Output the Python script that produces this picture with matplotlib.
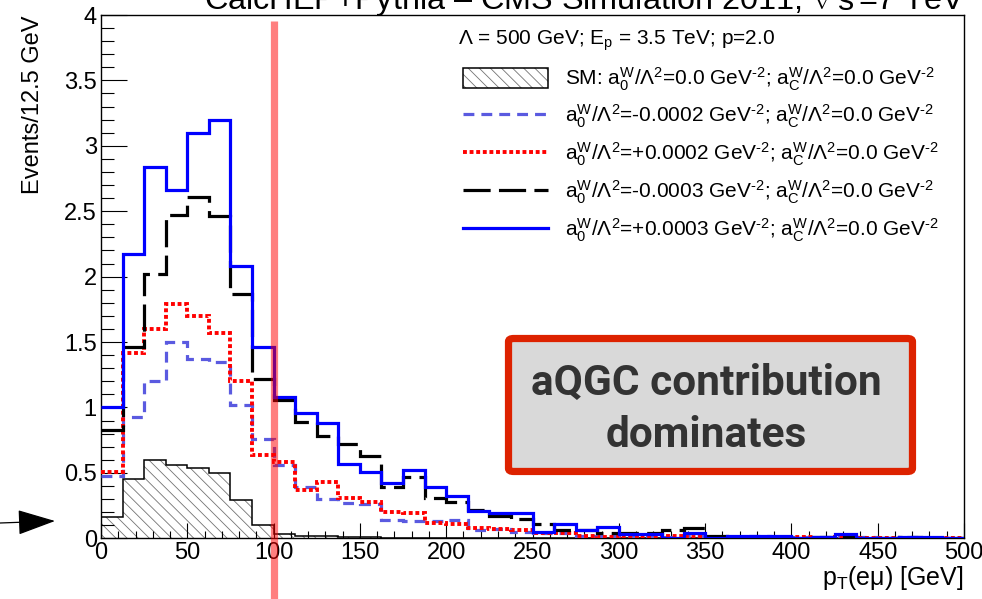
import numpy as np
import matplotlib
matplotlib.use("Agg")
import matplotlib.pyplot as plt
from matplotlib.lines import Line2D
from matplotlib.patches import Patch, FancyBboxPatch
from matplotlib.legend_handler import HandlerTuple
from matplotlib.ticker import MultipleLocator, FormatStrFormatter
from matplotlib import font_manager

plt.rcParams["font.family"] = ["Liberation Sans", "DejaVu Sans"]
plt.rcParams["mathtext.fontset"] = "custom"
plt.rcParams["mathtext.rm"] = "Liberation Sans"
plt.rcParams["mathtext.it"] = "Liberation Sans:italic"
plt.rcParams["mathtext.bf"] = "Liberation Sans:bold"
plt.rcParams["mathtext.default"] = "regular"
plt.rcParams["hatch.linewidth"] = 0.6

# ---------------- data: events per 12.5 GeV bin in pT(e mu) ----------------
bin_width = 12.5
n_bins = 40
bin_edges = np.arange(n_bins + 1) * bin_width

sm_values = [0.16, 0.45, 0.60, 0.56, 0.54, 0.50, 0.29, 0.10, 0.03, 0.02,
             0.015, 0.01, 0.01, 0.006, 0.005, 0.004, 0.004, 0.003, 0.003, 0.002,
             0.002, 0.002, 0.001, 0.001, 0.001, 0.001, 0.001, 0.0, 0.0, 0.0,
             0.0, 0.0, 0.0, 0.0, 0.0, 0.0, 0.0, 0.0, 0.0, 0.0]

a0_minus_2e4 = [0.48, 0.93, 1.20, 1.50, 1.37, 1.35, 1.02, 0.76, 0.56, 0.39,
                0.30, 0.27, 0.26, 0.14, 0.13, 0.13, 0.14, 0.06, 0.07, 0.05,
                0.04, 0.04, 0.02, 0.02, 0.02, 0.02, 0.01, 0.02, 0.01, 0.01,
                0.02, 0.01, 0.01, 0.01, 0.01, 0.01, 0.005, 0.01, 0.005, 0.005]

a0_plus_2e4 = [0.51, 1.42, 1.60, 1.79, 1.70, 1.57, 1.20, 0.64, 0.58, 0.37,
               0.43, 0.31, 0.28, 0.20, 0.19, 0.12, 0.11, 0.08, 0.07, 0.06,
               0.04, 0.04, 0.02, 0.01, 0.02, 0.01, 0.02, 0.01, 0.01, 0.01,
               0.01, 0.005, 0.01, 0.005, 0.01, 0.005, 0.005, 0.005, 0.005, 0.005]

a0_minus_3e4 = [0.83, 1.46, 2.02, 2.47, 2.61, 2.46, 1.87, 1.22, 1.06, 0.89,
                0.78, 0.72, 0.63, 0.39, 0.47, 0.31, 0.28, 0.22, 0.17, 0.15,
                0.11, 0.06, 0.06, 0.04, 0.04, 0.04, 0.06, 0.08, 0.02, 0.01,
                0.01, 0.01, 0.0, 0.01, 0.02, 0.0, 0.0, 0.01, 0.0, 0.0]

a0_plus_3e4 = [1.00, 2.17, 2.84, 2.66, 3.10, 3.20, 2.08, 1.46, 1.08, 0.96,
               0.88, 0.57, 0.51, 0.42, 0.52, 0.39, 0.32, 0.21, 0.19, 0.19,
               0.05, 0.11, 0.06, 0.09, 0.03, 0.03, 0.005, 0.04, 0.005, 0.02,
               0.02, 0.02, 0.0, 0.01, 0.03, 0.0, 0.0, 0.01, 0.01, 0.0]

legend_labels = [
    r"SM: $a_0^W/\Lambda^2$=0.0 GeV$^{\text{-}2}$; $a_C^W/\Lambda^2$=0.0 GeV$^{\text{-}2}$",
    r"$a_0^W/\Lambda^2$=-0.0002 GeV$^{\text{-}2}$; $a_C^W/\Lambda^2$=0.0 GeV$^{\text{-}2}$",
    r"$a_0^W/\Lambda^2$=+0.0002 GeV$^{\text{-}2}$; $a_C^W/\Lambda^2$=0.0 GeV$^{\text{-}2}$",
    r"$a_0^W/\Lambda^2$=-0.0003 GeV$^{\text{-}2}$; $a_C^W/\Lambda^2$=0.0 GeV$^{\text{-}2}$",
    r"$a_0^W/\Lambda^2$=+0.0003 GeV$^{\text{-}2}$; $a_C^W/\Lambda^2$=0.0 GeV$^{\text{-}2}$",
]
legend_header = r"$\Lambda$ = 500 GeV; E$_p$ = 3.5 TeV; p=2.0"
title_text = r"CalcHEP+Pythia – CMS Simulation 2011, $\sqrt{s}$=7 TeV"
cut_position = 100.0

# ---------------- styles ----------------
c_dash_blue = "#5a5ae0"
c_red = "#ff0000"
c_black = "#000000"
c_blue = "#0000ff"
lw_main = 2.3
style_dash_blue = (0, (3.4, 2.2))
style_red = (0, (1.0, 0.7))
style_black = (0, (8.5, 2.6))

fig = plt.figure(figsize=(9.82, 5.99), dpi=100)
ax = fig.add_axes([101 / 982, 1 - 538.3 / 599, 863 / 982, 523.3 / 599])

# SM: hatched filled histogram with black outline
ax.stairs(sm_values, bin_edges, fill=True, facecolor="white",
          edgecolor="0.45", hatch="\\\\\\", linewidth=0, zorder=1)
ax.stairs(sm_values, bin_edges, baseline=None, color="black",
          linewidth=1.1, zorder=2)

ax.stairs(a0_minus_2e4, bin_edges, baseline=None, color=c_dash_blue,
          linewidth=lw_main, linestyle=style_dash_blue, zorder=3)
ax.stairs(a0_plus_2e4, bin_edges, baseline=None, color=c_red,
          linewidth=2.8, linestyle=style_red, zorder=4)
ax.stairs(a0_minus_3e4, bin_edges, baseline=None, color=c_black,
          linewidth=lw_main, linestyle=style_black, zorder=5)
ax.stairs(a0_plus_3e4, bin_edges, baseline=None, color=c_blue,
          linewidth=lw_main, zorder=6)

# vertical marker at the cut value, extending below the axis
ax.plot([cut_position, cut_position], [-0.12, 0.988],
        transform=ax.get_xaxis_transform(), color="red", alpha=0.5,
        lw=5.2, solid_capstyle="butt", clip_on=False, zorder=10)

ax.set_xlim(0, 500)
ax.set_ylim(0, 4)
ax.xaxis.set_major_locator(MultipleLocator(50))
ax.xaxis.set_minor_locator(MultipleLocator(10))
ax.yaxis.set_major_locator(MultipleLocator(0.5))
ax.yaxis.set_minor_locator(MultipleLocator(0.1))
ax.yaxis.set_major_formatter(FormatStrFormatter("%g"))
ax.tick_params(axis="both", which="both", direction="in", top=False,
               right=False, labelsize=17, width=0.8)
ax.tick_params(axis="y", which="major", length=18.7, pad=3)
ax.tick_params(axis="y", which="minor", length=9.4)
ax.tick_params(axis="x", which="major", length=10.8, pad=2.5)
ax.tick_params(axis="x", which="minor", length=5.4)
for sp in ax.spines.values():
    sp.set_linewidth(1.0)

ax.set_ylabel("Events/12.5 GeV", fontsize=17, loc="top")
ax.yaxis.set_label_coords(-0.066, 1.0)
ax.set_xlabel(r"p$_T$(e$\mu$) [GeV]", fontsize=18, loc="right")
ax.xaxis.set_label_coords(1.0, -0.049)

# legend
sm_handle = (Patch(facecolor="white", edgecolor="0.45", hatch="\\\\\\", lw=0),
             Patch(facecolor="none", edgecolor="black", lw=1.1))
handles = [
    sm_handle,
    Line2D([], [], color=c_dash_blue, lw=lw_main, linestyle=style_dash_blue),
    Line2D([], [], color=c_red, lw=2.8, linestyle=style_red),
    Line2D([], [], color=c_black, lw=lw_main, linestyle=style_black),
    Line2D([], [], color=c_blue, lw=lw_main),
]
ax.text(0.4137, 0.950, legend_header, transform=ax.transAxes, fontsize=15,
        ha="left", va="center")
ax.legend(handles, legend_labels, loc="upper left",
          bbox_to_anchor=(0.4195, 0.904), frameon=False, fontsize=15,
          borderpad=0, borderaxespad=0, handlelength=4.08, handleheight=1.06,
          handletextpad=0.82, labelspacing=0.5,
          handler_map={tuple: HandlerTuple(ndivide=1, pad=0)})

# annotation box
box_font = "Roboto"
names = {f.name for f in font_manager.fontManager.ttflist}
if box_font not in names:
    box_font = "Liberation Sans"
box = FancyBboxPatch((0.4722, 0.1277), 0.4681, 0.2541,
                     boxstyle="round,pad=0,rounding_size=0.006",
                     transform=ax.transAxes, facecolor="#d9d9d9",
                     edgecolor="#dd2200", linewidth=5.2, zorder=12)
ax.add_patch(box)
ax.text(0.701, 0.274, "aQGC contribution", transform=ax.transAxes,
        fontsize=30.5, fontweight="bold", family=box_font, color="#333333",
        ha="center", va="baseline", zorder=13)
ax.text(0.701, 0.1745, "dominates", transform=ax.transAxes,
        fontsize=30.5, fontweight="bold", family=box_font, color="#333333",
        ha="center", va="baseline", zorder=13)

# title, partially above the canvas
fig.text(965 / 982, 1 - 10 / 599, title_text, ha="right", va="baseline",
         fontsize=23.3)

# pointer arrow at the left edge
ax.annotate("", xy=(55, 599 - 521), xytext=(0, 599 - 523),
            xycoords="figure pixels", textcoords="figure pixels",
            annotation_clip=False,
            arrowprops=dict(arrowstyle="-|>,head_length=2.4,head_width=0.8",
                            mutation_scale=10, lw=0.9, color="black",
                            shrinkA=0, shrinkB=0))

fig.savefig("out.png", dpi=100)
